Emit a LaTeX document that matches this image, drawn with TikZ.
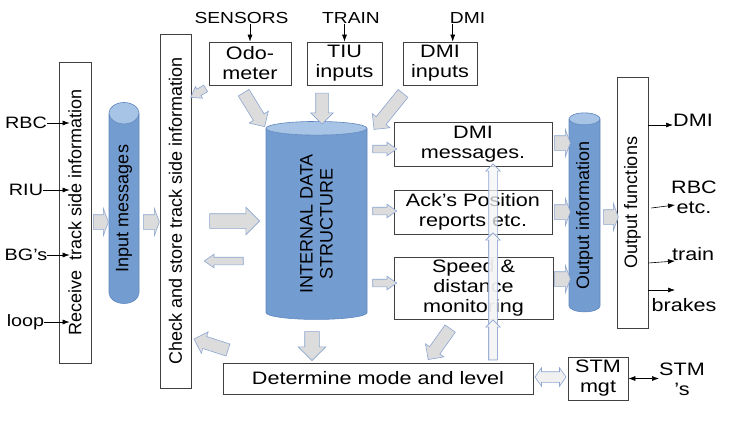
\documentclass[tikz,border=0pt]{standalone}
\usepackage{fontspec}
\setmainfont{Liberation Sans}[FakeStretch=1.2]
\newfontfamily\rotfont{Liberation Sans}
\usepackage{graphicx}
\usetikzlibrary{shapes.geometric, shapes.arrows, arrows.meta, calc}
\definecolor{dbbody}{RGB}{115,156,208}
\definecolor{dbtop}{RGB}{167,195,229}
\definecolor{dbline}{RGB}{95,135,190}
\definecolor{arrfill}{RGB}{220,220,220}
\definecolor{arrline}{RGB}{140,165,210}
\newcommand{\mainsz}{\fontsize{18}{20}\selectfont}
% block arrow between two points
\newcommand{\blockarr}[3][bigarr]{%
  \path let \p1=($(#3)-(#2)$), \n1={veclen(\x1,\y1)} in
    (#2) -- (#3) node[#1, midway, sloped, allow upside down, minimum height=\n1] {};}

\begin{document}
\begin{tikzpicture}[x=1pt, y=-1pt,
  box/.style={rectangle, draw=black!75, line width=0.8pt, fill=white, align=center, inner sep=1pt, font=\mainsz},
  db/.style={cylinder, rotate=90, draw=dbline, line width=0.6pt, cylinder uses custom fill,
    cylinder body fill=dbbody, cylinder end fill=dbtop, align=center, inner sep=0pt, font=\rotfont\mainsz},
  lbl/.style={align=center, inner sep=0pt, font=\mainsz},
  toplbl/.style={inner sep=0pt, font=\fontsize{16}{18}\selectfont},
  inlbl/.style={inner sep=0pt, font=\fontsize{16.5}{18}\selectfont},
  bigarr/.style={single arrow, draw=arrline, fill=arrfill, line width=0.6pt, inner xsep=0pt,
    inner ysep=7pt, single arrow head extend=6.5pt},
  stubarr/.style={bigarr, single arrow tip angle=140},
  midarr/.style={bigarr, inner ysep=6pt, single arrow head extend=5pt},
  smallarr/.style={bigarr, inner ysep=3.5pt, single arrow head extend=3pt, single arrow tip angle=70},
  lightarr/.style={bigarr, inner ysep=4pt, single arrow head extend=3pt, fill=gray!8, fill opacity=0.75},
  dblarr/.style={double arrow, draw=arrline, fill=gray!12, line width=0.6pt, inner xsep=0pt,
    inner ysep=5pt, double arrow head extend=4pt, double arrow tip angle=110},
  sig/.style={-{Latex[length=7pt,width=5pt]}, line width=0.6pt}
]
\useasboundingbox (0,0) rectangle (738,423);

% --- input side ---
\node[box, minimum width=32, minimum height=301] (recv) at (75,212.5) {\rotatebox{90}{\rotfont Receive~ track side information}};
\node[db, minimum height=201, minimum width=30, aspect=1.33] (incyl) at (124,208.5) {Input messages};
\node[box, minimum width=31, minimum height=354] (check) at (175.5,211) {\rotatebox{90}{\rotfont Check and store track side information}};

\node[inlbl] (rbc)  at (26,123) {RBC};
\node[inlbl] (riu)  at (26,190) {RIU};
\node[inlbl] (bgs)  at (26,255) {BG's};
\node[inlbl] (loop) at (25.5,322) {loop};

% --- sensors ---
\node[toplbl] (sensors) at (241.5,18) {SENSORS};
\node[toplbl] (train)   at (351,18) {TRAIN};
\node[toplbl] (dmilbl)  at (467.5,18) {DMI};
\node[box, minimum width=82, minimum height=43] (odo)   at (250,63.5)   {Odo-\\meter};
\node[box, minimum width=75, minimum height=43] (tiu)   at (344.5,63.5) {TIU\\inputs};
\node[box, minimum width=74, minimum height=43] (dmiin) at (440,63.5)   {DMI\\inputs};

% --- core ---
\node[db, minimum height=198, minimum width=101, aspect=0.42] (ids) at (316.5,224) {INTERNAL DATA\\STRUCTURE};
\node[box, minimum width=158, minimum height=44] (dmimsg) at (473,144)   {DMI\\messages.};
\node[box, minimum width=158, minimum height=44] (ack)    at (473,212)   {Ack's Position\\reports etc.};
\node[box, minimum width=159, minimum height=62] (speed)  at (473.5,288) {Speed \&\\distance\\monitoring};
\node[box, minimum width=310, minimum height=31] (mode)   at (378,378.5) {Determine mode and level};
\node[box, minimum width=60, minimum height=43]  (stm)    at (598,378.5) {STM\\mgt};
\node[lbl] (stms) at (682,379) {STM\\'s};

% --- output side ---
\node[db, minimum height=199, minimum width=31, aspect=0.71] (outcyl) at (584.5,215.5) {Output information};
\node[box, minimum width=31, minimum height=251] (outf) at (632.5,202.5) {\rotatebox{90}{\rotfont Output functions}};
\node[lbl, anchor=west] (dmiout)   at (673,120) {DMI};
\node[lbl]              (rbcout)   at (694,197) {RBC\\etc.};
\node[lbl, anchor=west] (trainout) at (672,254) {train};
\node[lbl]              (brakes)   at (684,305) {brakes};

% --- signal lines ---
\draw[sig] (rbc.east)  -- ($(rbc.east -| recv.west)+(11,0)$);
\draw[sig] (riu.east)  -- ($(riu.east -| recv.west)+(11,0)$);
\draw[sig] (bgs.east)  -- ($(bgs.east -| recv.west)+(11,0)$);
\draw[sig] (loop.east) -- ($(loop.east -| recv.west)+(11,0)$);
\draw[sig] (odo.north |- sensors.south) -- (odo.north);
\draw[sig] (tiu.north |- train.south) -- (tiu.north);
\coordinate (dmitop) at ($(dmilbl.south west)+(3,0)$);
\draw[sig] (dmitop) -- (dmitop |- dmiin.north);
\draw[sig] (outf.east |- 0,125) -- (dmiout.west |- 0,125);
\draw[sig] ([xshift=3pt]outf.east |- 0,208) -- (675,205);
\draw[sig] (outf.east |- 0,263) -- (675,261);
\draw[sig] (outf.east |- 0,290) -- (675,290);
\draw[{Latex[length=7pt,width=5pt]}-{Latex[length=7pt,width=5pt]}, line width=0.6pt] (stm.east) -- (stms.west |- stm.east);

% --- block arrows ---
\blockarr[stubarr]{92,222}{107,222}
\blockarr[stubarr]{142,222}{158,222}
\blockarr{206,221}{256,221}
\blockarr[smallarr]{246,261}{207,261}
\blockarr[smallarr]{208,87}{193,96}
\blockarr[midarr]{242,90}{263,124}
\blockarr[midarr]{322,90}{322,121}
\blockarr[midarr]{405,91}{376,127}
\blockarr[smallarr]{370,149}{394,149}
\blockarr[smallarr]{370,211}{394,211}
\blockarr[smallarr]{370,283}{394,283}
\blockarr[stubarr]{553,143}{569,143}
\blockarr[stubarr]{553,212}{569,212}
\blockarr[stubarr]{553,279}{569,279}
\blockarr[stubarr]{602,217}{617,217}
\blockarr{312,328}{312,357}
\blockarr[midarr]{452,326}{430,357}
\blockarr[midarr]{231,351}{197,340}
\blockarr[lightarr]{493,362}{493,166}
\blockarr[lightarr]{493,362}{493,235}
\blockarr[lightarr]{493,362}{493,322}
\blockarr[dblarr]{535,377}{566,377}
\end{tikzpicture}
\end{document}
